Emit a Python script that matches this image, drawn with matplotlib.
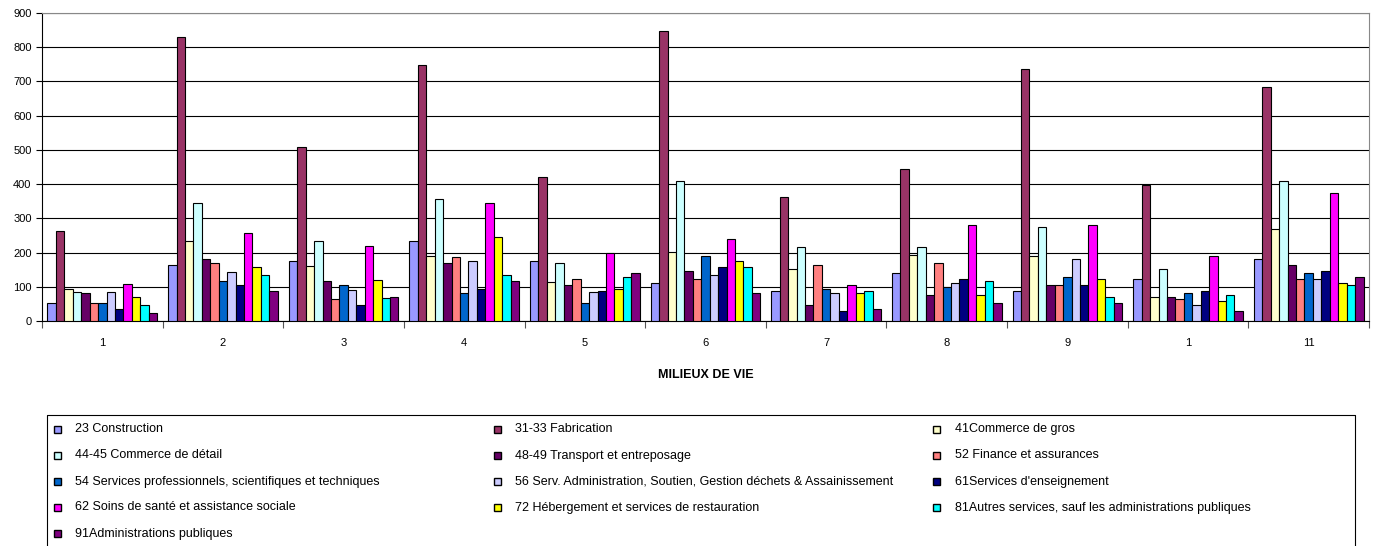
import matplotlib
matplotlib.use("Agg")
import matplotlib.pyplot as plt
import numpy as np
from matplotlib.patches import Rectangle
from matplotlib.lines import Line2D

plt.rcParams['font.family'] = ['Liberation Sans', 'DejaVu Sans']

groups = ["1", "2", "3", "4", "5", "6", "7", "8", "9", "1", "11"]

series_names = [
    "23 Construction",
    "31-33 Fabrication",
    "41Commerce de gros",
    "44-45 Commerce de détail",
    "48-49 Transport et entreposage",
    "52 Finance et assurances",
    "54 Services professionnels, scientifiques et techniques",
    "56 Serv. Administration, Soutien, Gestion déchets & Assainissement",
    "61Services d'enseignement",
    "62 Soins de santé et assistance sociale",
    "72 Hébergement et services de restauration",
    "81Autres services, sauf les administrations publiques",
    "91Administrations publiques",
]

colors = ["#9999FF", "#993366", "#FFFFCC", "#CCFFFF", "#660066", "#FF8080",
          "#0066CC", "#CCCCFF", "#000080", "#FF00FF", "#FFFF00", "#00FFFF", "#800080"]

construction   = [52, 163, 174, 233, 174, 110, 87, 139, 87, 122, 180]
fabrication    = [263, 829, 509, 748, 420, 847, 362, 443, 736, 397, 683]
commerce_gros  = [93, 233, 162, 191, 115, 203, 151, 192, 191, 69, 268]
commerce_det   = [86, 345, 233, 356, 169, 408, 215, 215, 274, 151, 408]
transport      = [81, 180, 116, 169, 104, 145, 47, 75, 104, 69, 163]
finance        = [52, 169, 63, 186, 122, 122, 163, 169, 104, 63, 122]
serv_prof      = [52, 116, 104, 81, 52, 191, 93, 98, 128, 81, 139]
serv_admin     = [86, 144, 92, 174, 86, 133, 81, 110, 180, 47, 122]
enseignement   = [34, 104, 47, 94, 87, 158, 28, 122, 104, 87, 145]
soins          = [109, 256, 220, 345, 198, 240, 104, 280, 280, 191, 373]
hebergement    = [69, 157, 121, 245, 93, 174, 81, 75, 122, 57, 110]
autres         = [47, 134, 68, 134, 129, 157, 87, 116, 69, 75, 104]
admin_pub      = [22, 87, 70, 116, 139, 81, 34, 52, 52, 28, 128]

data = [construction, fabrication, commerce_gros, commerce_det, transport, finance,
        serv_prof, serv_admin, enseignement, soins, hebergement, autres, admin_pub]

W, H = 1376, 546
fig = plt.figure(figsize=(W / 100, H / 100), dpi=100)
ax = fig.add_axes([42 / W, 1 - 321 / H, (1369 - 42) / W, (321 - 13) / H])

n = len(data)
x = np.arange(len(groups))
bw = 1.0 / (n + 1.3)
for j, (vals, c) in enumerate(zip(data, colors)):
    ax.bar(x + (j - (n - 1) / 2) * bw, vals, width=bw, color=c,
           edgecolor="black", linewidth=0.8, zorder=3)

ax.set_xlim(-0.5, len(groups) - 0.5)
ax.set_ylim(0, 900)
ax.set_yticks(np.arange(0, 901, 100))
ax.yaxis.grid(True, color="black", linewidth=0.8, zorder=0)
ax.tick_params(axis="y", labelsize=8, length=4, width=0.8)

ax.set_xticks(x)
ax.set_xticklabels(groups, fontsize=8)
ax.tick_params(axis="x", which="major", length=0, pad=12)
ax.set_xticks(np.arange(-0.5, len(groups), 1.0), minor=True)
ax.tick_params(axis="x", which="minor", length=5, width=0.8, color="#555555")

for s in ["top", "right"]:
    ax.spines[s].set_color("#888888")
ax.spines["left"].set_color("black")
ax.spines["bottom"].set_color("black")

ax.set_xlabel("MILIEUX DE VIE", fontsize=9, fontweight="bold", labelpad=15)

# Legend drawn manually (Excel style: equal-width columns, row-wise order)
def fx(px):
    return px / W

def fy(py):
    return 1 - py / H

frame = Line2D([fx(47), fx(47), fx(1355), fx(1355)],
               [fy(547), fy(415), fy(415), fy(547)],
               transform=fig.transFigure, color="black", linewidth=0.8)
fig.add_artist(frame)

col_x = [57, 497, 937]
row_y = [429, 455.5, 481.5, 507.5, 533.5]
msz = 7
for k, (name, c) in enumerate(zip(series_names, colors)):
    r, cidx = divmod(k, 3)
    mx, my = col_x[cidx], row_y[r]
    fig.add_artist(Rectangle((fx(mx - msz / 2), fy(my + msz / 2)), msz / W, msz / H,
                             transform=fig.transFigure, facecolor=c,
                             edgecolor="black", linewidth=1.0))
    fig.text(fx(mx + 18), fy(my), name, fontsize=9, va="center", ha="left")

fig.savefig("out.png", dpi=100)
